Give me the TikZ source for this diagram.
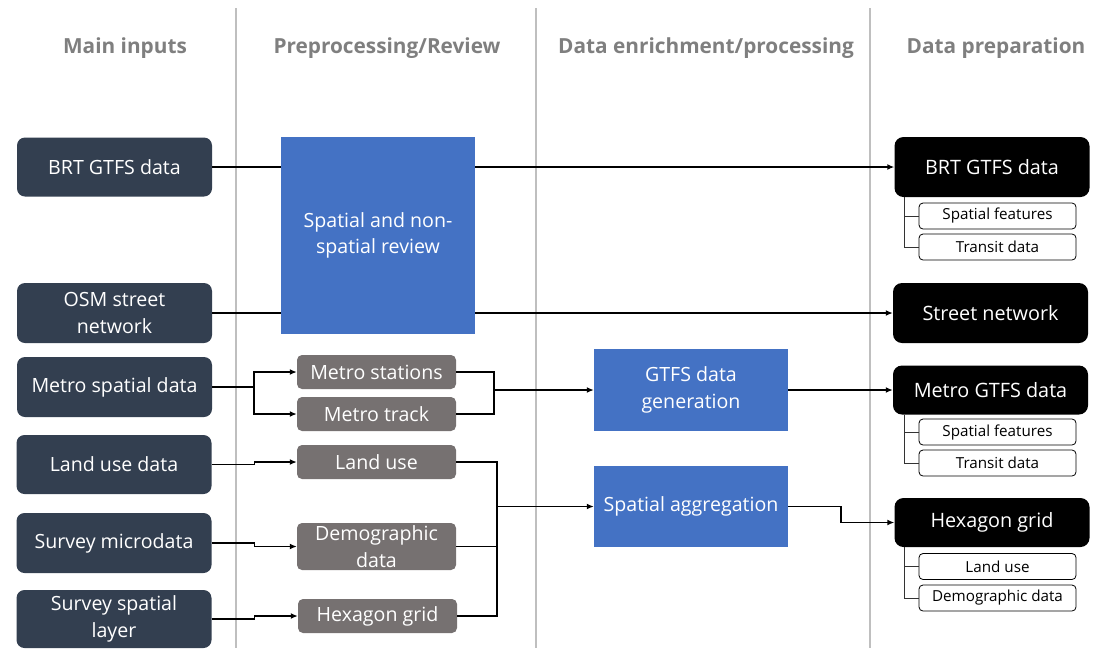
\documentclass[tikz,border=0pt]{standalone}
\usepackage{fontspec}
\setmainfont{Open Sans}
\usetikzlibrary{arrows.meta}
\definecolor{inputnavy}{HTML}{333F50}
\definecolor{stepblue}{HTML}{4472C4}
\definecolor{stepgray}{HTML}{767171}
\definecolor{headgray}{HTML}{7F7F7F}
\definecolor{sepgray}{HTML}{BFBFBF}

\tikzset{
  header/.style={font=\bfseries\fontsize{20.8}{24}\selectfont, text=headgray},
  inbox/.style={fill=inputnavy, rounded corners=8pt, text=white, align=center,
    minimum width=195pt, minimum height=59pt, inner sep=0pt,
    font=\fontsize{19.6}{26.5}\selectfont},
  stepbox/.style={fill=stepblue, text=white, align=center, minimum width=194pt,
    inner sep=0pt, font=\fontsize{19.6}{26.5}\selectfont},
  prebox/.style={fill=stepgray, rounded corners=5pt, text=white, align=center,
    minimum width=159pt, minimum height=34pt, inner sep=0pt,
    font=\fontsize{19.6}{26.5}\selectfont},
  outbox/.style={fill=black, rounded corners=9pt, text=white, align=center,
    minimum width=195pt, inner sep=0pt, font=\fontsize{19.8}{24}\selectfont},
  subbox/.style={draw=black, fill=white, rounded corners=4pt, line width=0.8pt,
    minimum width=157pt, minimum height=26pt, inner sep=0pt,
    font=\fontsize{15.2}{17}\selectfont},
  flow/.style={line width=1.5pt, -{Latex[length=7pt,width=6pt]}},
  link/.style={line width=1.5pt},
  tree/.style={line width=0.8pt, draw=black!80},
  sep/.style={line width=1.8pt, draw=sepgray}
}

\begin{document}
\begin{tikzpicture}[x=1pt,y=-1pt]
\useasboundingbox (0,0) rectangle (1105,657);
% column separators
\draw[sep] (236,8) -- (236,648);
\draw[sep] (536,8) -- (536,648);
\draw[sep] (870,8) -- (870,648);
% column headers
\node[header] (h1) at (125,48) {Main inputs};
\node[header] (h2) at (387,48) {Preprocessing/Review};
\node[header] (h3) at (706,48) {Data enrichment/processing};
\node[header] (h4) at (996,48) {Data preparation};
% main inputs
\node[inbox] (in1) at (114.5,167) {BRT GTFS data};
\node[inbox, minimum height=60pt] (in2) at (114.5,313) {OSM street\\network};
\node[inbox, minimum height=60pt] (in3) at (114.5,387) {Metro spatial data};
\node[inbox] (in4) at (114,464.5) {Land use data};
\node[inbox, minimum height=60pt] (in5) at (114,543) {Survey microdata};
\node[inbox, minimum height=58pt] (in6) at (114,619) {Survey spatial\\layer};
% preprocessing / review
\node[stepbox, minimum height=197pt] (review) at (378,235.5) {Spatial and non-\\spatial review};
\node[prebox] (pre1) at (376.5,372) {Metro stations};
\node[prebox] (pre2) at (376.5,414) {Metro track};
\node[prebox] (pre3) at (376.5,462) {Land use};
\node[prebox, minimum height=47pt] (pre4) at (376.5,546.5) {Demographic\\data};
\node[prebox] (pre5) at (377.5,616) {Hexagon grid};
% enrichment / processing
\node[stepbox, minimum height=82pt] (gen) at (691,390) {GTFS data\\generation};
\node[stepbox, minimum height=81pt] (agg) at (691,506.5) {Spatial aggregation};
% data preparation
\node[outbox, minimum height=60pt] (out1) at (992,167) {BRT GTFS data};
\node[outbox, minimum height=60pt] (out2) at (990.5,313) {Street network};
\node[outbox, minimum height=49pt] (out3) at (990.5,390) {Metro GTFS data};
\node[outbox, minimum height=49pt] (out4) at (992,522.5) {Hexagon grid};
\node[subbox] (s11) at (997.5,216) {Spatial features};
\node[subbox] (s12) at (997.5,247) {Transit data};
\node[subbox] (s31) at (997.5,432) {Spatial features};
\node[subbox] (s32) at (997.5,463) {Transit data};
\node[subbox] (s41) at (997.5,566.5) {Land use};
\node[subbox] (s42) at (997.5,598) {Demographic data};
% sub item trees
\draw[tree] (out1.south west) ++(10,0) |- (s11.west);
\draw[tree] (out1.south west) ++(10,0) |- (s12.west);
\draw[tree] (out3.south west) ++(12,0) |- (s31.west);
\draw[tree] (out3.south west) ++(12,0) |- (s32.west);
\draw[tree] (out4.south west) ++(10,0) |- (s41.west);
\draw[tree] (out4.south west) ++(10,0) |- (s42.west);
% BRT and street network
\draw[link] (in1.east) -- (in1.east -| review.west);
\draw[flow] (review.east |- out1.west) -- (out1.west);
\draw[link] (in2.east) -- (in2.east -| review.west);
\draw[flow] (review.east |- out2.west) -- (out2.west);
% metro branch
\draw[link] (in3.east) -- ++(42,0) coordinate (msplit);
\draw[flow] (msplit) |- (pre1.west);
\draw[flow] (msplit) |- (pre2.west);
\path (gen.west) ++(-100,0) coordinate (mjoin);
\draw[link] (pre1.east) -| (mjoin);
\draw[link] (pre2.east) -| (mjoin);
\draw[flow] (mjoin) -- (gen.west);
\draw[flow] (gen.east) -- (out3.west);
% land use / survey branch
\draw[flow] (in4.east) -- ++(43,0) |- (pre3.west);
\draw[flow] (in5.east) -- ++(43,0) |- (pre4.west);
\draw[flow] (in6.east) -- ++(43,0) |- (pre5.west);
\path (agg.west) ++(-97,0) coordinate (ajoin);
\draw[link] (pre3.east) -| (ajoin);
\draw[link] (pre4.east) -| (ajoin);
\draw[link] (pre5.east) -| (ajoin);
\draw[flow] (ajoin) -- (agg.west);
\draw[flow] (agg.east) -- ++(53,0) |- (out4.west);
\end{tikzpicture}
\end{document}
